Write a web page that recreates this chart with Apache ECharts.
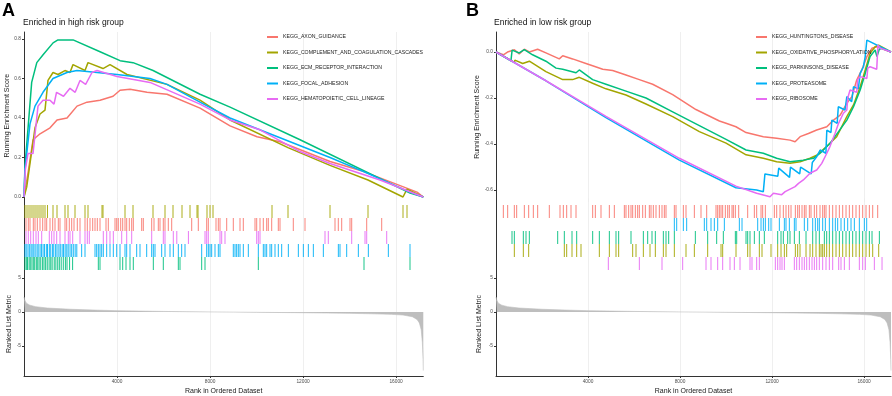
<!DOCTYPE html>
<html>
<head>
<meta charset="utf-8">
<script src="https://cdn.jsdelivr.net/npm/echarts@6/dist/echarts.min.js"></script>
<style>
  html, body { margin: 0; padding: 0; background: #fff; }
  #chart { width: 892px; height: 396px; }
</style>
</head>
<body>
<div id="chart"></div>
<script>
// ---- data ----
var rankMax = 17170;
var xTicks = [4000, 8000, 12000, 16000];

// panel A: enriched in high risk group
var namesA = ['KEGG_AXON_GUIDANCE', 'KEGG_COMPLEMENT_AND_COAGULATION_CASCADES', 'KEGG_ECM_RECEPTOR_INTERACTION', 'KEGG_FOCAL_ADHESION', 'KEGG_HEMATOPOIETIC_CELL_LINEAGE'];
var colorsA = ['#F8766D', '#A3A500', '#00BF7D', '#00B0F6', '#E76BF3'];
var esTicksA = [0, 0.2, 0.4, 0.6, 0.8];

var esAxon = [[0,0],[170,0.12],[390,0.29],[690,0.32],[1120,0.35],[1420,0.39],[1850,0.40],[2280,0.46],[2710,0.48],[3270,0.49],[3830,0.51],[4130,0.54],[4560,0.545],[5290,0.53],[6150,0.52],[7570,0.45],[8860,0.36],[10020,0.305],[11010,0.28],[13160,0.18],[14580,0.13],[16900,0.025],[17170,0]];
var esComplement = [[0,0],[116,0.05],[258,0.17],[473,0.35],[688,0.42],[903,0.44],[1032,0.59],[1247,0.63],[1462,0.62],[1760,0.64],[1978,0.63],[2107,0.67],[2623,0.64],[2752,0.68],[3397,0.65],[3698,0.67],[4429,0.62],[6149,0.57],[7568,0.49],[8858,0.39],[11350,0.25],[13158,0.16],[14792,0.086],[16297,0.0],[16469,0.04],[17170,0]];
var esEcm = [[0,0],[40,0.15],[330,0.58],[550,0.68],[820,0.72],[1250,0.78],[1460,0.795],[2110,0.795],[3270,0.735],[4130,0.69],[4690,0.68],[5550,0.64],[7570,0.52],[8860,0.455],[11870,0.29],[16600,0.02],[17170,0]];
var esFocal = [[0,0],[43,0.14],[258,0.37],[473,0.46],[817,0.53],[1247,0.60],[1849,0.63],[2279,0.64],[3139,0.63],[3999,0.62],[5418,0.60],[6149,0.57],[7568,0.48],[8858,0.40],[13158,0.20],[14577,0.13],[16598,0.025],[17170,0]];
var esHemato = [[0,0],[60,0.14],[172,0.22],[387,0.22],[602,0.46],[817,0.49],[1118,0.49],[1290,0.47],[1400,0.53],[1700,0.51],[1978,0.55],[2200,0.53],[2408,0.59],[2650,0.57],[2924,0.63],[3139,0.64],[3999,0.61],[5418,0.58],[7568,0.47],[8858,0.39],[10148,0.34],[11868,0.23],[13158,0.17],[15308,0.086],[17170,0]];

var hitsComplement = [43,129,215,301,387,473,559,645,731,817,903,1010,1247,1419,1763,1892,2193,2623,2752,3354,3397,4343,4687,5547,6063,6407,6794,7138,7439,7482,7869,7998,8127,10664,11352,13158,14792,16297,16469];
var hitsAxon = [86,185,258,400,473,572,688,804,903,976,1118,1234,1333,1475,1548,1763,1836,1948,2051,2150,2292,2408,2623,2722,2838,2954,3053,3152,3268,3526,3625,3913,3986,4055,4158,4244,4343,4416,4528,4631,4700,5061,5130,5491,5590,5775,5848,5990,6063,6205,6351,7211,7495,7856,7925,8256,8355,8428,8716,9000,9288,9430,9933,10006,10148,10290,10436,10505,10651,10935,11008,11580,12083,13373,13515,13661,14018,14091,14736,15381];
var hitsHemato = [86,185,288,400,516,615,761,1088,1191,1290,1406,1548,1763,1905,1978,2094,2408,2623,2722,2808,3410,3556,3698,3841,4201,4416,4631,5491,5990,6063,6420,6570,7070,7783,7856,7925,8428,8501,8643,10006,10075,10148,12943,13085,14091,14663,14736,15596];
var hitsFocal = [40,95,170,230,300,350,420,480,560,610,690,750,820,880,960,1010,1090,1150,1230,1280,1360,1420,1500,1560,1640,1700,1770,1840,1900,1980,2050,2120,2200,2270,2479,2623,3053,3125,3196,3268,3340,3411,3555,3698,3841,3986,4128,4343,4415,4558,4845,4988,5275,5490,5561,5633,5920,6063,6278,6421,6636,6780,6923,7640,7855,7927,7998,8070,8213,8356,8428,9000,9073,9144,9215,9288,9431,9646,10076,10291,10363,10435,10578,10650,10793,10936,11080,11367,11797,12012,12227,12442,12872,13517,13588,13875,14377,14807,15667,16598];
var hitsEcm = [40,100,150,220,270,340,400,460,530,590,650,720,800,860,930,1000,1080,1150,1210,1300,1370,1450,1520,1600,1690,1780,1850,1960,2090,3196,3268,4128,4244,4386,4558,4700,5561,5990,6636,6708,7640,7783,10076,14620,16598];

// panel B: enriched in low risk group
var namesB = ['KEGG_HUNTINGTONS_DISEASE', 'KEGG_OXIDATIVE_PHOSPHORYLATION', 'KEGG_PARKINSONS_DISEASE', 'KEGG_PROTEASOME', 'KEGG_RIBOSOME'];
var colorsB = ['#F8766D', '#A3A500', '#00BF7D', '#00B0F6', '#E76BF3'];
var esTicksB = [-0.6, -0.4, -0.2, 0];

var esHuntington = [[0,0],[320,-0.012],[500,0.0],[800,0.01],[1010,-0.008],[1230,0.012],[1450,0.0],[1810,0.012],[2170,-0.004],[2750,-0.03],[2900,-0.016],[3330,-0.03],[3910,-0.05],[4200,-0.06],[4640,-0.075],[5070,-0.08],[5650,-0.1],[6230,-0.12],[6810,-0.14],[7680,-0.185],[8690,-0.25],[9710,-0.3],[10000,-0.31],[10430,-0.325],[10870,-0.35],[11620,-0.368],[12200,-0.375],[12780,-0.383],[13000,-0.39],[13220,-0.368],[13580,-0.354],[13940,-0.339],[14380,-0.325],[14670,-0.296],[14960,-0.274],[15250,-0.223],[15470,-0.194],[15680,-0.122],[15900,-0.078],[16120,-0.02],[16340,0.016],[16550,0.023],[17170,0]];
var esOxidative = [[0,0],[800,-0.045],[820,-0.035],[1160,-0.05],[1450,-0.04],[2170,-0.085],[2900,-0.12],[3330,-0.12],[3620,-0.11],[4200,-0.136],[4780,-0.16],[5650,-0.187],[6520,-0.226],[7680,-0.281],[8840,-0.346],[10000,-0.396],[10870,-0.447],[11620,-0.462],[12200,-0.477],[12780,-0.484],[13220,-0.477],[13650,-0.462],[13940,-0.449],[14380,-0.41],[14810,-0.368],[15250,-0.281],[15540,-0.23],[15830,-0.151],[16050,-0.078],[16260,-0.006],[16480,0.023],[16630,0.03],[17170,0]];
var esParkinson = [[0,0],[650,-0.038],[700,0.008],[1010,-0.004],[1230,0.01],[1590,-0.012],[2170,-0.04],[2610,-0.07],[2900,-0.075],[3480,-0.09],[3620,-0.078],[4200,-0.12],[4780,-0.14],[5650,-0.17],[6520,-0.2],[7680,-0.26],[8840,-0.32],[10000,-0.38],[10870,-0.426],[11620,-0.44],[12200,-0.462],[12780,-0.477],[13360,-0.47],[13800,-0.462],[14090,-0.44],[14520,-0.397],[14890,-0.346],[15250,-0.296],[15540,-0.238],[15830,-0.165],[16050,-0.093],[16260,-0.02],[16480,0.009],[16560,-0.02],[16660,0.012],[16770,0.016],[17170,0]];
var esProteasome = [[0,0],[2170,-0.125],[4780,-0.285],[7970,-0.47],[10430,-0.59],[11330,-0.60],[11620,-0.607],[11690,-0.53],[12250,-0.54],[12290,-0.505],[12760,-0.545],[12800,-0.50],[13200,-0.53],[13240,-0.50],[13700,-0.53],[13750,-0.48],[13940,-0.455],[14090,-0.426],[14340,-0.44],[14380,-0.34],[14560,-0.35],[14600,-0.296],[14830,-0.31],[14880,-0.238],[15170,-0.252],[15250,-0.194],[15460,-0.216],[15540,-0.151],[15750,-0.16],[15830,-0.093],[15970,-0.064],[16050,-0.02],[16120,0.052],[16190,0.052],[17170,0]];
var esRibosome = [[0,0],[2170,-0.125],[4780,-0.28],[7970,-0.462],[10430,-0.583],[11330,-0.614],[11910,-0.629],[12060,-0.614],[12420,-0.62],[12570,-0.607],[13000,-0.585],[13150,-0.571],[13360,-0.556],[13650,-0.527],[13940,-0.513],[14160,-0.484],[14380,-0.44],[14520,-0.41],[14740,-0.353],[14890,-0.31],[15100,-0.266],[15250,-0.252],[15290,-0.2],[15390,-0.165],[15680,-0.175],[15720,-0.12],[15830,-0.107],[16120,-0.115],[16160,-0.07],[16260,-0.064],[16550,-0.075],[16600,0.03],[16700,0.017],[17170,0]];

var hitsHuntington = [319,507,797,898,1232,1420,1623,1811,2318,2782,2927,3072,3260,3478,4202,4318,4564,4927,5144,5579,5651,5767,5868,5941,6057,6158,6231,6376,6492,6665,6738,6839,6955,7100,7216,7317,7390,7752,7825,8144,8259,8622,8911,9158,9563,9636,9708,9781,9853,9969,10071,10143,10259,10317,10404,10549,10940,11230,11331,11520,11592,11708,12099,12201,12345,12490,12606,12722,12824,13012,13113,13186,13302,13403,13476,13621,13693,13838,13939,14084,14200,14273,14345,14490,14635,14780,14925,15070,15215,15359,15504,15649,15794,15939,16084,16229,16374,16591];
var hitsProteasome = [7752,7854,8144,8288,9056,9158,9346,9491,9636,9926,10578,10694,11375,11520,11621,11708,11853,11954,12317,12534,12606,12751,12969,13041,13403,13548,13766,13882,13983,14055,14200,14316,14490,14635,14751,14852,14997,15142,15287,15432,15577,15794,16011,16113];
var hitsParkinson = [696,797,1188,1304,1449,2681,2970,3304,3507,4202,4492,4927,5216,5332,5868,6405,6593,6781,6926,7274,7390,7506,7752,8665,9201,9592,9882,10404,10462,10868,10940,11041,11230,11447,11664,12244,12389,12490,12679,12780,12969,13186,13476,13766,13910,14055,14273,14374,14490,14635,14780,14925,15070,15215,15359,15504,15649,15794,15939,16084,16229,16345,16664];
var hitsOxidative = [797,1188,1420,2970,3072,3304,3507,3695,4492,4927,5216,5332,5941,6086,6405,6694,6926,7274,7390,7752,8259,8622,9201,9781,9853,10433,10940,11041,11447,11563,11954,12244,12389,12534,12635,13012,13113,13215,13476,13650,13766,13910,14055,14128,14200,14273,14374,14490,14635,14780,14925,15070,15215,15359,15504,15649,15794,15939,16084,16229,16374,16635];
var hitsRibosome = [4883,6231,7216,8114,9129,9346,9636,9853,10172,10360,10607,11041,11128,11331,11447,12143,12244,12345,12432,12534,12969,13070,13186,13302,13403,13505,13621,13737,13838,13939,14055,14200,14345,14490,14635,14896,14997,15142,15359,15794,15939,16055,16446,16780];

// ranked list metric (same gene ranking in both panels)
var metric = [[0,2.2],[30,1.8],[100,1.3],[250,1.0],[500,0.78],[1000,0.58],[2000,0.4],[3000,0.28],[4000,0.19],[5000,0.13],[6000,0.08],[7000,0.04],[8000,0.01],[9000,-0.02],[10000,-0.05],[11000,-0.08],[12000,-0.11],[13000,-0.15],[14000,-0.2],[15000,-0.27],[15800,-0.35],[16300,-0.45],[16700,-0.7],[16900,-1.1],[17000,-1.6],[17080,-2.6],[17130,-4.5],[17160,-7],[17170,-8.6]];
var metricTicks = [-5, 0, 5];

// ---- chart ----
var font = 'Liberation Sans, Arial, sans-serif';
var axisDark = '#333333';
var gridGrey = '#EBEBEB';

function xAx(gridIndex, bottom) {
    return {
        type: 'value', gridIndex: gridIndex, min: 0, max: rankMax, interval: 2000,
        axisLine: { show: bottom, onZero: false, lineStyle: { color: axisDark, width: 1 } },
        axisTick: { show: bottom, length: 2, customValues: xTicks, lineStyle: { color: axisDark } },
        axisLabel: { show: bottom, customValues: xTicks, margin: 3, formatter: function (v) { return String(v); },
                     fontSize: 4.8, color: '#4D4D4D', fontFamily: font },
        splitLine: { show: true, lineStyle: { color: gridGrey, width: 0.8 } },
        name: bottom ? 'Rank in Ordered Dataset' : '',
        nameLocation: 'middle', nameGap: 12,
        nameTextStyle: { fontSize: 7, color: '#1a1a1a', fontFamily: font }
    };
}

function yAx(gridIndex, min, max, ticks, name, fmt, gap) {
    return {
        type: 'value', gridIndex: gridIndex, min: min, max: max,
        axisLine: { show: true, onZero: false, lineStyle: { color: axisDark, width: 1 } },
        axisTick: { show: true, length: 2, customValues: ticks, lineStyle: { color: axisDark } },
        axisLabel: { show: true, customValues: ticks, margin: 3, formatter: fmt, fontSize: 4.8, color: '#4D4D4D', fontFamily: font },
        splitLine: { show: false },
        name: name, nameLocation: 'middle', nameGap: gap,
        nameTextStyle: { fontSize: 7, color: '#1a1a1a', fontFamily: font }
    };
}

function rugAx(gridIndex) {
    return {
        type: 'value', gridIndex: gridIndex, min: 0, max: 5.654, inverse: true,
        axisLine: { show: true, onZero: false, lineStyle: { color: axisDark, width: 1 } },
        axisTick: { show: false }, axisLabel: { show: false }, splitLine: { show: false }
    };
}

function esSeries(name, color, data, xi, yi) {
    return {
        name: name, type: 'line', xAxisIndex: xi, yAxisIndex: yi, data: data,
        showSymbol: false, clip: false, color: color,
        lineStyle: { color: color, width: 1.5 }
    };
}

function rugSeries(name, color, hits, row, xi, yi) {
    return {
        name: name, type: 'scatter', xAxisIndex: xi, yAxisIndex: yi,
        data: hits.map(function (r) { return [r, row]; }),
        symbol: 'rect', symbolSize: [1, 13], color: color,
        itemStyle: { color: color, opacity: 0.9 }
    };
}

function metricSeries(xi, yi) {
    return {
        name: 'metric', type: 'line', xAxisIndex: xi, yAxisIndex: yi, data: metric,
        showSymbol: false, color: '#BEBEBE',
        lineStyle: { color: '#BEBEBE', width: 0.6 },
        areaStyle: { color: '#BEBEBE', opacity: 1, origin: 0 }
    };
}

var fmt1 = function (v) { return v.toFixed(1); };
var fmt0 = function (v) { return String(v); };

var option = {
    animation: false,
    backgroundColor: '#ffffff',
    textStyle: { fontFamily: font },
    title: [
        { text: 'A', left: 2, top: 2, padding: 0, textStyle: { fontSize: 18, fontWeight: 'bold', color: '#000', fontFamily: font } },
        { text: 'Enriched in high risk group', left: 23, top: 18, padding: 0, textStyle: { fontSize: 8.5, fontWeight: 'normal', color: '#111', fontFamily: font } },
        { text: 'B', left: 466, top: 2, padding: 0, textStyle: { fontSize: 18, fontWeight: 'bold', color: '#000', fontFamily: font } },
        { text: 'Enriched in low risk group', left: 494, top: 18, padding: 0, textStyle: { fontSize: 8.5, fontWeight: 'normal', color: '#111', fontFamily: font } }
    ],
    legend: [
        { data: namesA, orient: 'vertical', left: 267, top: 34, itemWidth: 11, itemHeight: 2, itemGap: 9.5, icon: 'rect', selectedMode: false, padding: 0,
          textStyle: { fontSize: 5.2, lineHeight: 6, color: '#1a1a1a', fontFamily: font } },
        { data: namesB, orient: 'vertical', left: 756, top: 34, itemWidth: 11, itemHeight: 2, itemGap: 9.5, icon: 'rect', selectedMode: false, padding: 0,
          textStyle: { fontSize: 5.2, lineHeight: 6, color: '#1a1a1a', fontFamily: font } }
    ],
    grid: [
        { left: 24, top: 32, width: 399.3, height: 167.4 },
        { left: 24, top: 198.5, width: 399.3, height: 73.5 },
        { left: 24, top: 272, width: 399.3, height: 106 },
        { left: 496, top: 32, width: 395, height: 170 },
        { left: 496, top: 198.5, width: 395, height: 73.5 },
        { left: 496, top: 272, width: 395, height: 106 }
    ],
    xAxis: [xAx(0, false), xAx(1, false), xAx(2, true), xAx(3, false), xAx(4, false), xAx(5, true)],
    yAxis: [
        yAx(0, -0.012, 0.835, esTicksA, 'Running Enrichment Score', fmt1, 9),
        rugAx(1),
        yAx(2, -9.4, 5.87, metricTicks, 'Ranked List Metric', fmt0, 9),
        yAx(3, -0.652, 0.087, esTicksB, 'Running Enrichment Score', fmt1, 13),
        rugAx(4),
        yAx(5, -9.4, 5.87, metricTicks, 'Ranked List Metric', fmt0, 13)
    ],
    series: [
        esSeries(namesA[0], colorsA[0], esAxon, 0, 0),
        esSeries(namesA[1], colorsA[1], esComplement, 0, 0),
        esSeries(namesA[2], colorsA[2], esEcm, 0, 0),
        esSeries(namesA[3], colorsA[3], esFocal, 0, 0),
        esSeries(namesA[4], colorsA[4], esHemato, 0, 0),
        rugSeries(namesA[1], colorsA[1], hitsComplement, 1, 1, 1),
        rugSeries(namesA[0], colorsA[0], hitsAxon, 2, 1, 1),
        rugSeries(namesA[4], colorsA[4], hitsHemato, 3, 1, 1),
        rugSeries(namesA[3], colorsA[3], hitsFocal, 4, 1, 1),
        rugSeries(namesA[2], colorsA[2], hitsEcm, 5, 1, 1),
        metricSeries(2, 2),

        esSeries(namesB[0], colorsB[0], esHuntington, 3, 3),
        esSeries(namesB[1], colorsB[1], esOxidative, 3, 3),
        esSeries(namesB[2], colorsB[2], esParkinson, 3, 3),
        esSeries(namesB[3], colorsB[3], esProteasome, 3, 3),
        esSeries(namesB[4], colorsB[4], esRibosome, 3, 3),
        rugSeries(namesB[0], colorsB[0], hitsHuntington, 1, 4, 4),
        rugSeries(namesB[3], colorsB[3], hitsProteasome, 2, 4, 4),
        rugSeries(namesB[2], colorsB[2], hitsParkinson, 3, 4, 4),
        rugSeries(namesB[1], colorsB[1], hitsOxidative, 4, 4, 4),
        rugSeries(namesB[4], colorsB[4], hitsRibosome, 5, 4, 4),
        metricSeries(5, 5)
    ]
};

var chart = echarts.init(document.getElementById('chart'), null, { renderer: 'canvas' });
chart.setOption(option);
</script>
</body>
</html>
